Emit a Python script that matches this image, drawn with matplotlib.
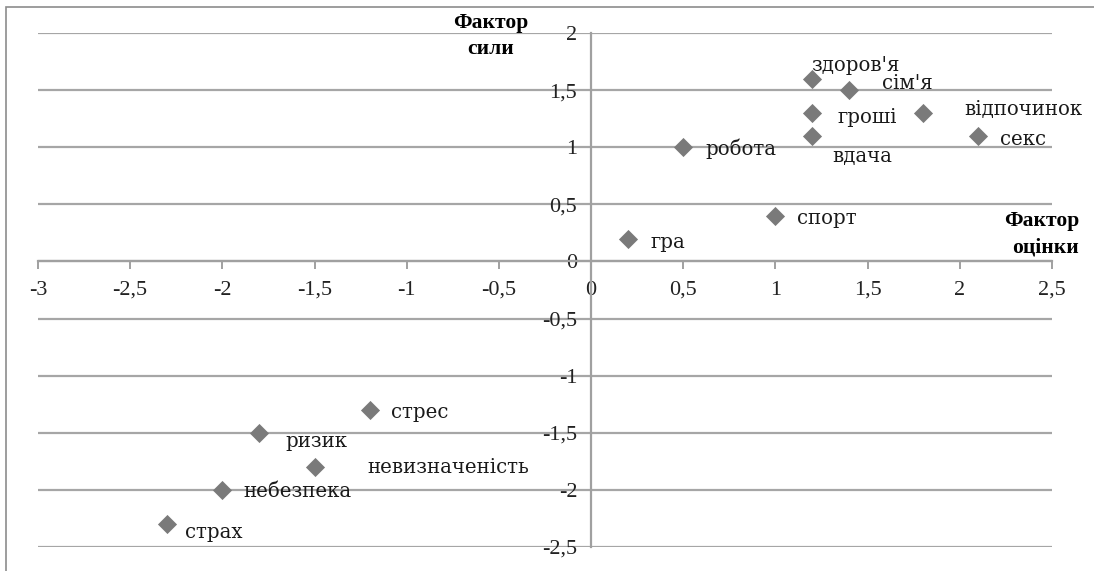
import matplotlib
matplotlib.use("Agg")
import matplotlib.pyplot as plt
from matplotlib.patches import Rectangle

# ---- data ----
labels = ["здоров'я", "сім'я", "гроші", "відпочинок", "вдача", "секс", "робота",
          "спорт", "гра", "стрес", "ризик", "невизначеність", "небезпека", "страх"]
x_vals = [1.2, 1.4, 1.2, 1.8, 1.2, 2.1, 0.5, 1.0, 0.2, -1.2, -1.8, -1.5, -2.0, -2.3]
y_vals = [1.6, 1.5, 1.3, 1.3, 1.1, 1.1, 1.0, 0.4, 0.2, -1.3, -1.5, -1.8, -2.0, -2.3]
x_ticks = [-3, -2.5, -2, -1.5, -1, -0.5, 0, 0.5, 1, 1.5, 2, 2.5]
y_ticks = [2, 1.5, 1, 0.5, 0, -0.5, -1, -1.5, -2, -2.5]
y_title = "Фактор\nсили"
x_title = "Фактор\nоцінки"

# ---- style: label offsets in pixels (dx, dy) ----
offsets = [(-1, 13), (33, 7), (25, -5), (41, 3), (20, -21), (22, -4), (22, -2),
           (22, -3), (23, -4), (21, -3), (26, -9), (53, 0), (21, -2), (18, -8)]

W, H = 1094, 571
fig = plt.figure(figsize=(W / 100, H / 100), dpi=100)
fig.patch.set_facecolor("white")

# chart border
fig.patches.append(Rectangle((6 / W, -0.1), 1.2, (H - 7) / H + 0.1,
                             transform=fig.transFigure, fill=False,
                             edgecolor="#8c8c8c", linewidth=1.2))

left, right = 38 / W, 1052 / W
top, bottom = 1 - 33 / H, 1 - 547 / H
ax = fig.add_axes([left, bottom, right - left, top - bottom])
ax.set_xlim(-3, 2.5)
ax.set_ylim(-2.5, 2)
ax.set_facecolor("none")

for s in ["top", "right"]:
    ax.spines[s].set_visible(False)
ax.spines["left"].set_position(("data", 0))
ax.spines["bottom"].set_position(("data", 0))
for s in ["left", "bottom"]:
    ax.spines[s].set_color("#a0a0a0")
    ax.spines[s].set_linewidth(1.6)

ax.set_yticks(y_ticks)
ax.grid(axis="y", color="#a6a6a6", linewidth=1.6)
ax.set_axisbelow(True)

def fmt(v):
    return ("%g" % v).replace(".", ",")

ax.set_xticks(x_ticks)
ax.set_xticklabels([fmt(v) for v in x_ticks])
ax.set_yticklabels([fmt(v) for v in y_ticks])
ax.tick_params(axis="x", direction="out", length=6, width=1.4, color="#a0a0a0",
               pad=8, labelsize=16)
ax.tick_params(axis="y", direction="out", length=0, pad=10, labelsize=16)
for t in ax.get_xticklabels() + ax.get_yticklabels():
    t.set_fontfamily("Liberation Serif")
    t.set_color("#222222")

ax.scatter(x_vals, y_vals, marker="D", s=95, color="#7a7a7a", zorder=3,
           linewidths=0)

for lab, xv, yv, (dx, dy) in zip(labels, x_vals, y_vals, offsets):
    ax.annotate(lab, (xv, yv), xytext=(dx, dy), textcoords="offset pixels",
                ha="left", va="center", fontsize=14.2,
                family="DejaVu Serif", color="#1a1a1a")

fig.text(491 / W, 1 - 36 / H, y_title, ha="center", va="center", fontsize=15.5,
         family="Liberation Serif", fontweight="bold", linespacing=1.45)
fig.text(1079 / W, 1 - 234 / H, x_title, ha="right", va="center", fontsize=15.5,
         family="Liberation Serif", fontweight="bold", linespacing=1.45,
         multialignment="right")

fig.savefig("out.png", dpi=100, facecolor="white")
